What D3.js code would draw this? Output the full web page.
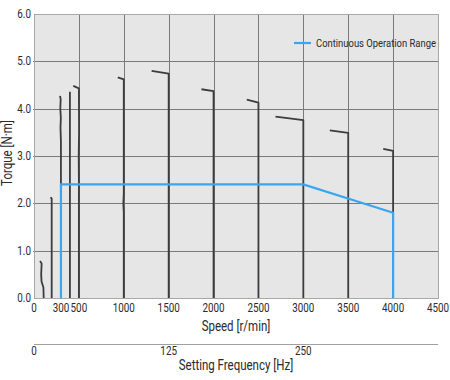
<!DOCTYPE html>
<html>
<head>
<meta charset="utf-8">
<script src="https://cdn.jsdelivr.net/npm/d3@7"></script>
<style>
  body { margin: 0; background: #fff; }
  text { font-family: "Roboto", "Liberation Sans", sans-serif; fill: #2a2a2a; }
</style>
</head>
<body>
<div id="chart"></div>
<script>
// torque curves: [speed r/min, torque N·m]
const curve100 = [[67, 0.78], [85, 0.73], [80, 0.5], [84, 0.35], [105, 0.22], [108, 0]];
const curve200 = [[185, 2.13], [197, 2.1], [197, 0]];
const curve300 = [[290, 4.27], [297, 4.2], [293, 4.0], [299, 3.8], [295, 3.6], [300, 3.3], [300, 0]];
const curve400 = [[400, 4.36], [400, 0]];
const curve500 = [[437, 4.48], [500, 4.43], [502, 3.5], [498, 3.0], [500, 2.5], [500, 0]];
const curve1000 = [[933, 4.66], [1000, 4.62], [1000, 2.2], [995, 2.0], [1000, 1.8], [1000, 0]];
const curve1500 = [[1310, 4.80], [1500, 4.74], [1500, 0]];
const curve2000 = [[1865, 4.41], [2000, 4.37], [2000, 0]];
const curve2500 = [[2370, 4.19], [2500, 4.13], [2500, 0]];
const curve3000 = [[2690, 3.83], [3000, 3.76], [3000, 0]];
const curve3500 = [[3295, 3.54], [3500, 3.49], [3500, 0]];
const curve4000 = [[3890, 3.15], [4000, 3.11], [4000, 0]];
const torqueCurves = [curve100, curve200, curve300, curve400, curve500, curve1000,
  curve1500, curve2000, curve2500, curve3000, curve3500, curve4000];

const continuousRange = [[300, 0], [300, 2.4], [3000, 2.4], [4000, 1.8], [4000, 0]];

const speedTicks = [0, 300, 500, 1000, 1500, 2000, 2500, 3000, 3500, 4000, 4500];
const gridSpeeds = [500, 1000, 1500, 2000, 2500, 3000, 3500, 4000];
const torqueTicks = [0, 1, 2, 3, 4, 5, 6];
const freqTicks = [0, 125, 250];

const width = 450, height = 380;
const plotLeft = 34, plotRight = 438, plotTop = 14, plotBottom = 298;
const BLUE = "#3aa6f0";

const svg = d3.select("#chart").append("svg")
  .attr("width", width).attr("height", height);

let x = d3.scaleLinear().domain([0, 4500]).range([plotLeft, plotRight]);
let y = d3.scaleLinear().domain([0, 6]).range([plotBottom, plotTop]);
let xf = d3.scaleLinear().domain([0, 375]).range([plotLeft, plotRight]);

svg.append("rect")
  .attr("x", plotLeft).attr("y", plotTop)
  .attr("width", plotRight - plotLeft).attr("height", plotBottom - plotTop)
  .attr("fill", "#e6e6e6");

// grid
svg.append("g").selectAll("line")
  .data(torqueTicks.slice(1, -1))
  .join("line")
  .attr("x1", plotLeft - 1).attr("x2", plotRight)
  .attr("y1", d => Math.round(y(d)) + 0.5).attr("y2", d => Math.round(y(d)) + 0.5)
  .attr("stroke", "#7a7a7a").attr("stroke-width", 1);

svg.append("g").selectAll("line")
  .data(gridSpeeds)
  .join("line")
  .attr("x1", d => Math.round(x(d)) + 0.5).attr("x2", d => Math.round(x(d)) + 0.5)
  .attr("y1", plotTop).attr("y2", plotBottom)
  .attr("stroke", "#7a7a7a").attr("stroke-width", 1);

svg.append("rect")
  .attr("x", plotLeft + 0.5).attr("y", plotTop + 0.5)
  .attr("width", plotRight - plotLeft).attr("height", plotBottom - plotTop)
  .attr("fill", "none").attr("stroke", "#a8a8a8");

let line = d3.line().x(d => x(d[0])).y(d => y(d[1]));

svg.append("g").selectAll("path")
  .data(torqueCurves)
  .join("path")
  .attr("d", line)
  .attr("fill", "none")
  .attr("stroke", "#3c3c3c")
  .attr("stroke-width", 1.8)
  .attr("stroke-linejoin", "round");

svg.append("path")
  .attr("d", line(continuousRange))
  .attr("fill", "none")
  .attr("stroke", BLUE)
  .attr("stroke-width", 2.2);

// legend
svg.append("line")
  .attr("x1", 294).attr("x2", 311).attr("y1", 43).attr("y2", 43)
  .attr("stroke", BLUE).attr("stroke-width", 2.2);
svg.append("text")
  .attr("x", 316).attr("y", 47)
  .attr("font-size", "11.5px")
  .text("Continuous Operation Range");

// y axis labels
svg.append("g").selectAll("text")
  .data(torqueTicks)
  .join("text")
  .attr("x", 31).attr("y", d => y(d) + 4)
  .attr("text-anchor", "end")
  .attr("font-size", "12px")
  .text(d => d.toFixed(1));

svg.append("text")
  .attr("transform", "translate(12," + 153 + ") rotate(-90)")
  .attr("text-anchor", "middle")
  .attr("font-size", "14px")
  .text("Torque [N·m]");

// x axis labels
svg.append("g").selectAll("text")
  .data(speedTicks)
  .join("text")
  .attr("x", d => x(d)).attr("y", 312)
  .attr("text-anchor", "middle")
  .attr("font-size", "12px")
  .text(d => d);

svg.append("text")
  .attr("x", 236).attr("y", 331)
  .attr("text-anchor", "middle")
  .attr("font-size", "14px")
  .text("Speed [r/min]");

// frequency axis
svg.append("line")
  .attr("x1", plotLeft).attr("x2", plotRight)
  .attr("y1", 344.5).attr("y2", 344.5)
  .attr("stroke", "#a0a0a0");

svg.append("g").selectAll("text")
  .data(freqTicks)
  .join("text")
  .attr("x", d => xf(d)).attr("y", 355)
  .attr("text-anchor", "middle")
  .attr("font-size", "12px")
  .text(d => d);

svg.append("text")
  .attr("x", 236).attr("y", 370)
  .attr("text-anchor", "middle")
  .attr("font-size", "14px")
  .text("Setting Frequency [Hz]");

// condensed look of the original type
svg.selectAll("text").each(function () {
  let w = this.getComputedTextLength();
  this.setAttribute("textLength", w * 0.82);
  this.setAttribute("lengthAdjust", "spacingAndGlyphs");
});
</script>
</body>
</html>
